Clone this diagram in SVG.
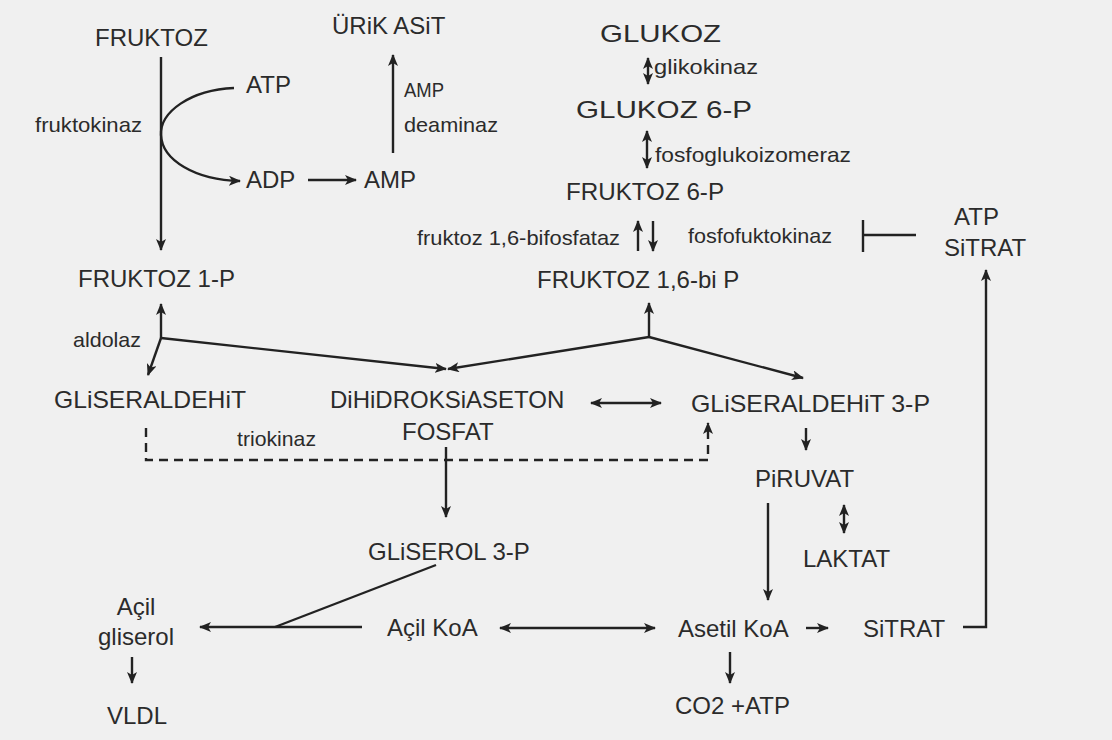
<svg xmlns="http://www.w3.org/2000/svg" width="1112" height="740" viewBox="0 0 1112 740">
  <defs>
    <style>
      text { font-family: "Liberation Sans", Arial, sans-serif; fill: #2b2b2b; }
      .L { font-size: 24px; }
      .S { font-size: 21px; }
      .ln { fill: none; stroke: #222; stroke-width: 2.4; }
      .a { marker-end: url(#ah); }
      .b { marker-start: url(#ah); marker-end: url(#ah); }
      .d { stroke-dasharray: 9 6; }
    </style>
    <marker id="ah" viewBox="0 0 12 10" refX="11" refY="5" markerWidth="12" markerHeight="10" markerUnits="userSpaceOnUse" orient="auto-start-reverse">
      <path d="M0,0 L12,5 L0,10 L3,5 z" fill="#222"/>
    </marker>
  </defs>
  <rect width="1112" height="740" fill="#f0f0f0"/>

  <g id="connectors">
    <path class="ln a" d="M161,57 V250"/>
    <path class="ln a" d="M234,88 C190,90 160,112 161,135 C162,160 195,180 240,181"/>
    <path class="ln a" d="M308,180 H356"/>
    <path class="ln a" d="M393,153 V55"/>
    <path class="ln b" d="M648,58 V84"/>
    <path class="ln b" d="M647,131 V168"/>
    <path class="ln a" d="M638,251 V221"/>
    <path class="ln a" d="M653,221 V251"/>
    <path class="ln" d="M863,220 V252 M863,235 H916"/>
    <path class="ln a" d="M963,627 H986 V270"/>
    <path class="ln a" d="M161,338 V304"/>
    <path class="ln a" d="M161,338 L148,375"/>
    <path class="ln a" d="M161,338 L446,369"/>
    <path class="ln a" d="M649,337 V303"/>
    <path class="ln a" d="M649,337 L448,369"/>
    <path class="ln a" d="M649,337 L803,378"/>
    <path class="ln b" d="M591,403 H661"/>
    <path class="ln d a" d="M146,428 V460 H708 V423"/>
    <path class="ln a" d="M446,447 V517"/>
    <path class="ln a" d="M806,428 V450"/>
    <path class="ln a" d="M768,503 V600"/>
    <path class="ln b" d="M844,505 V533"/>
    <path class="ln" d="M436,565 L275,627"/>
    <path class="ln a" d="M362,627 H200"/>
    <path class="ln b" d="M500,628 H655"/>
    <path class="ln a" d="M806,628 H828"/>
    <path class="ln a" d="M730,652 V683"/>
    <path class="ln a" d="M132,657 V683"/>
  </g>

  <g id="fruktoz"><text class="L" x="95" y="46">FRUKTOZ</text></g>
  <g id="urik-asit"><text class="L" x="332" y="34">ÜRiK ASiT</text></g>
  <g id="atp-top"><text class="L" x="246" y="93">ATP</text></g>
  <g id="fruktokinaz"><text class="S" x="35" y="132" textLength="107" lengthAdjust="spacingAndGlyphs">fruktokinaz</text></g>
  <g id="adp"><text class="L" x="246" y="188">ADP</text></g>
  <g id="amp"><text class="L" x="364" y="188">AMP</text></g>
  <g id="amp-deaminaz">
    <text class="S" x="404" y="97" textLength="40" lengthAdjust="spacingAndGlyphs">AMP</text>
    <text class="S" x="404" y="132" textLength="94" lengthAdjust="spacingAndGlyphs">deaminaz</text>
  </g>
  <g id="glukoz"><text class="L" x="600" y="42" textLength="121" lengthAdjust="spacingAndGlyphs">GLUKOZ</text></g>
  <g id="glikokinaz"><text class="S" x="654" y="74" textLength="104" lengthAdjust="spacingAndGlyphs">glikokinaz</text></g>
  <g id="glukoz-6p"><text class="L" x="576" y="118" textLength="176" lengthAdjust="spacingAndGlyphs">GLUKOZ 6-P</text></g>
  <g id="fosfoglukoizomeraz"><text class="S" x="655" y="162" textLength="196" lengthAdjust="spacingAndGlyphs">fosfoglukoizomeraz</text></g>
  <g id="fruktoz-6p"><text class="L" x="566" y="200" textLength="158" lengthAdjust="spacingAndGlyphs">FRUKTOZ 6-P</text></g>
  <g id="bifosfataz"><text class="S" x="417" y="245" textLength="203" lengthAdjust="spacingAndGlyphs">fruktoz 1,6-bifosfataz</text></g>
  <g id="fosfofruktokinaz"><text class="S" x="688" y="243" textLength="144" lengthAdjust="spacingAndGlyphs">fosfofuktokinaz</text></g>
  <g id="atp-sitrat">
    <text class="L" x="954" y="225">ATP</text>
    <text class="L" x="944" y="256">SiTRAT</text>
  </g>
  <g id="fruktoz-1p"><text class="L" x="78" y="287">FRUKTOZ 1-P</text></g>
  <g id="fruktoz-16bip"><text class="L" x="537" y="288">FRUKTOZ 1,6-bi P</text></g>
  <g id="aldolaz"><text class="S" x="73" y="347" textLength="68" lengthAdjust="spacingAndGlyphs">aldolaz</text></g>
  <g id="gliseraldehit"><text class="L" x="54" y="408" textLength="192" lengthAdjust="spacingAndGlyphs">GLiSERALDEHiT</text></g>
  <g id="dhap">
    <text class="L" x="330" y="408">DiHiDROKSiASETON</text>
    <text class="L" x="402" y="440">FOSFAT</text>
  </g>
  <g id="gliseraldehit-3p"><text class="L" x="691" y="412" textLength="239" lengthAdjust="spacingAndGlyphs">GLiSERALDEHiT 3-P</text></g>
  <g id="triokinaz"><text class="S" x="237" y="446" textLength="79" lengthAdjust="spacingAndGlyphs">triokinaz</text></g>
  <g id="piruvat"><text class="L" x="755" y="487">PiRUVAT</text></g>
  <g id="laktat"><text class="L" x="803" y="567">LAKTAT</text></g>
  <g id="gliserol-3p"><text class="L" x="368" y="560">GLiSEROL 3-P</text></g>
  <g id="acil-gliserol">
    <text class="L" x="136" y="615" text-anchor="middle">Açil</text>
    <text class="L" x="136" y="645" text-anchor="middle">gliserol</text>
  </g>
  <g id="vldl"><text class="L" x="107" y="724">VLDL</text></g>
  <g id="acil-koa"><text class="L" x="387" y="636">Açil KoA</text></g>
  <g id="asetil-koa"><text class="L" x="678" y="637">Asetil KoA</text></g>
  <g id="sitrat"><text class="L" x="863" y="637">SiTRAT</text></g>
  <g id="co2-atp"><text class="L" x="675" y="714">CO2 +ATP</text></g>
</svg>
